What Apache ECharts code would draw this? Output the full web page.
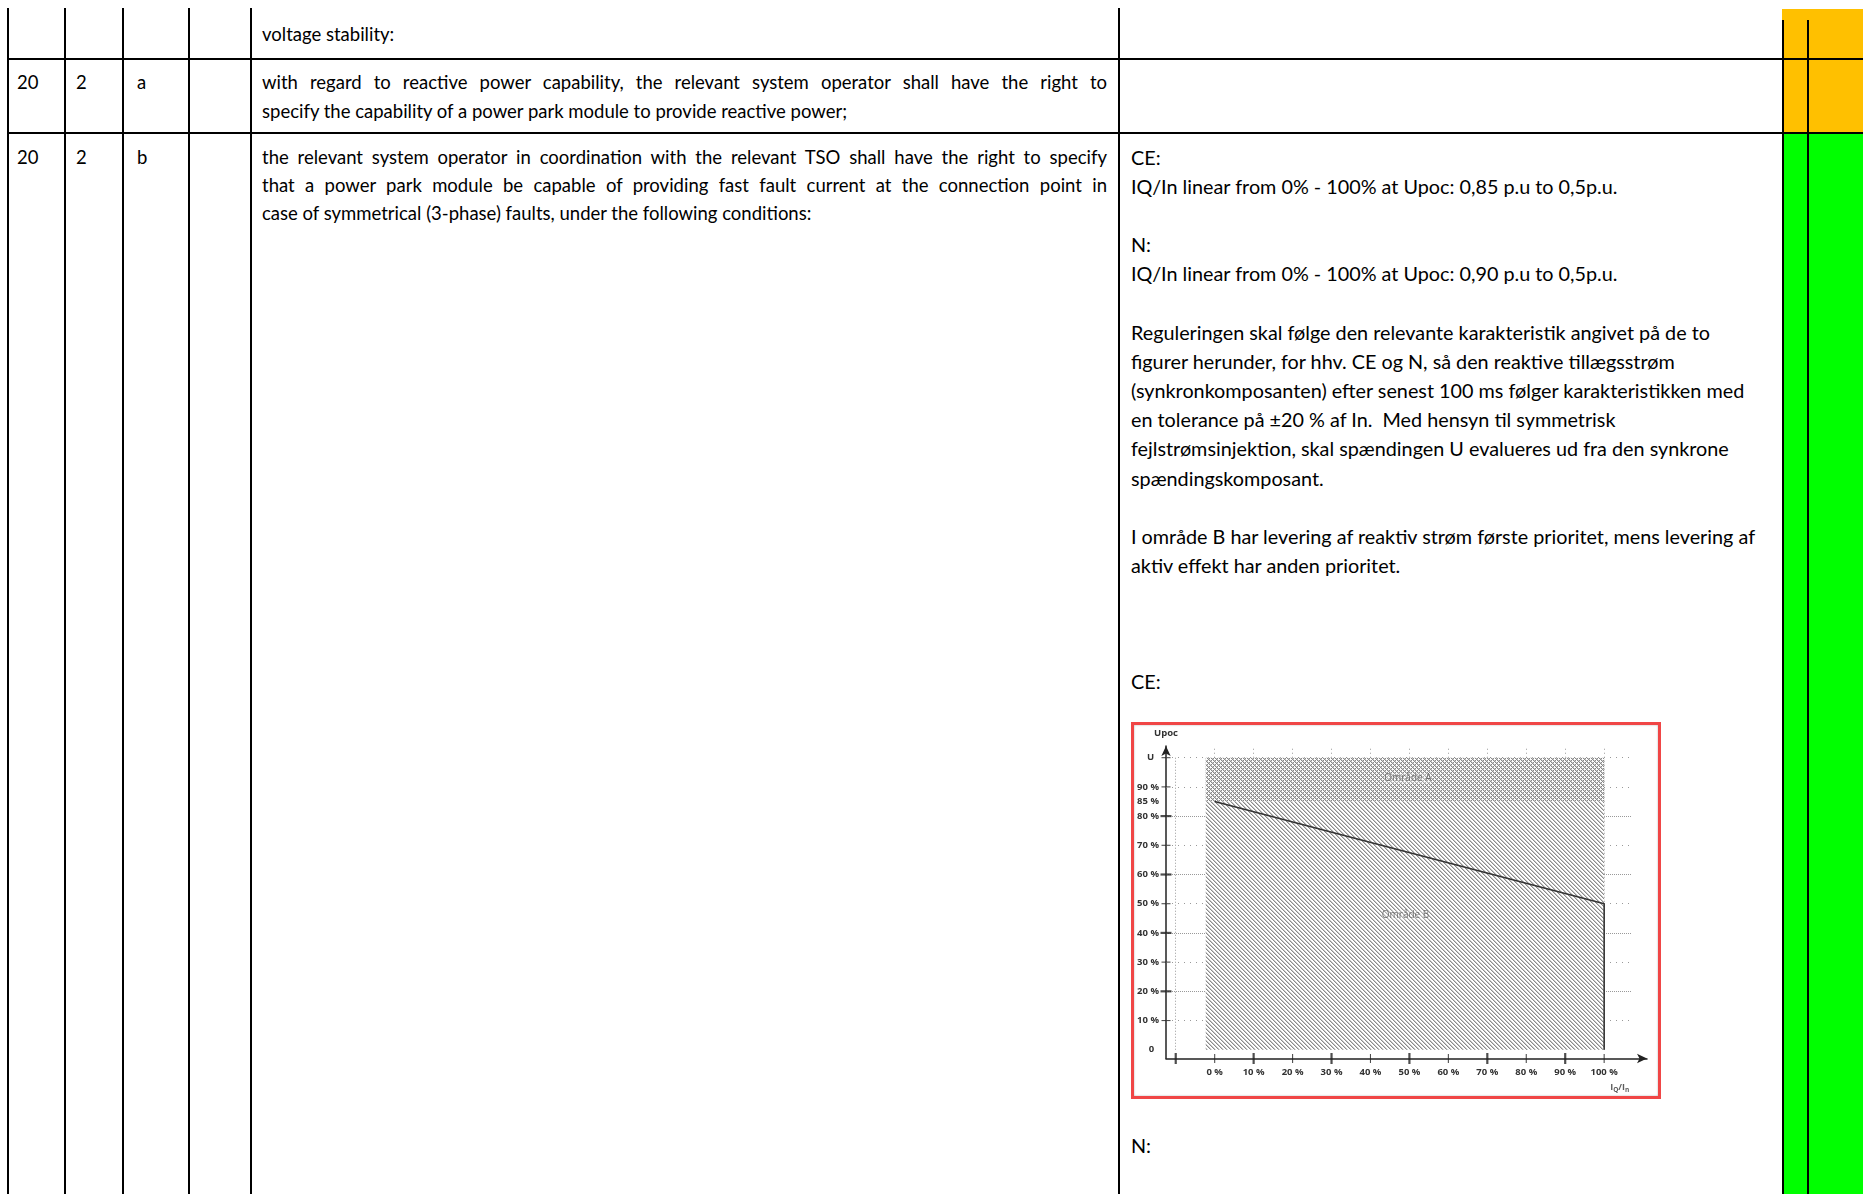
<!DOCTYPE html>
<html>
<head>
<meta charset="utf-8">
<script src="https://cdn.jsdelivr.net/npm/echarts@6/dist/echarts.min.js"></script>
<style>
  body { margin: 0; width: 1863px; height: 1194px; position: relative; overflow: hidden; background: #fff;
         font-family: Lato, 'Open Sans', sans-serif; font-size: 18.5px; color: #000; }
  .vl { position: absolute; width: 2px; background: #000; }
  .hl { position: absolute; height: 2px; background: #000; left: 7px; right: 0; }
  .t { position: absolute; height: 24px; line-height: 24px; white-space: pre; }
  .r { font-size: 19.8px; }
  .j { white-space: normal; text-align: justify; text-align-last: justify; width: 845px; }
  #frame { position: absolute; left: 1131px; top: 722px; width: 530px; height: 377px; box-sizing: border-box;
           border: 3px solid #f04646; box-shadow: inset 0 0 2px #aaa; background: #fff; }
  #chart { width: 100%; height: 100%; }
</style>
</head>
<body>
<!-- status columns -->
<div style="position:absolute;left:1782px;top:9px;width:81px;height:124px;background:#ffc000"></div>
<div style="position:absolute;left:1782px;top:133px;width:81px;height:1061px;background:#00ff00"></div>

<!-- table rules -->
<div class="vl" style="left:7px;top:8px;bottom:0"></div>
<div class="vl" style="left:64px;top:8px;bottom:0"></div>
<div class="vl" style="left:122px;top:8px;bottom:0"></div>
<div class="vl" style="left:188px;top:8px;bottom:0"></div>
<div class="vl" style="left:250px;top:8px;bottom:0"></div>
<div class="vl" style="left:1118px;top:8px;bottom:0"></div>
<div class="vl" style="left:1782px;top:20px;bottom:0"></div>
<div class="vl" style="left:1807px;top:20px;bottom:0"></div>
<div class="hl" style="top:58px"></div>
<div class="hl" style="top:132px"></div>

<!-- left part -->
<div class="t" style="left:262px;top:22px">voltage stability:</div>

<div class="t" style="left:17px;top:70px">20</div>
<div class="t" style="left:76px;top:70px">2</div>
<div class="t" style="left:137px;top:70px">a</div>
<div class="t j" style="left:262px;top:70px">with regard to reactive power capability, the relevant system operator shall have the right to</div>
<div class="t" style="left:262px;top:99px">specify the capability of a power park module to provide reactive power;</div>

<div class="t" style="left:17px;top:145px">20</div>
<div class="t" style="left:76px;top:145px">2</div>
<div class="t" style="left:137px;top:145px">b</div>
<div class="t j" style="left:262px;top:145px">the relevant system operator in coordination with the relevant TSO shall have the right to specify</div>
<div class="t j" style="left:262px;top:173px">that a power park module be capable of providing fast fault current at the connection point in</div>
<div class="t" style="left:262px;top:201px">case of symmetrical (3-phase) faults, under the following conditions:</div>

<!-- right part -->
<div class="t r" style="left:1131px;top:145px">CE:</div>
<div class="t r" style="left:1131px;top:174px">IQ/In linear from 0% - 100% at Upoc: 0,85 p.u to 0,5p.u.</div>
<div class="t r" style="left:1131px;top:232px">N:</div>
<div class="t r" style="left:1131px;top:261px">IQ/In linear from 0% - 100% at Upoc: 0,90 p.u to 0,5p.u.</div>
<div class="t r" style="left:1131px;top:320px">Reguleringen skal følge den relevante karakteristik angivet på de to</div>
<div class="t r" style="left:1131px;top:349px">figurer herunder, for hhv. CE og N, så den reaktive tillægsstrøm</div>
<div class="t r" style="left:1131px;top:378px">(synkronkomposanten) efter senest 100 ms følger karakteristikken med</div>
<div class="t r" style="left:1131px;top:407px">en tolerance på ±20 % af In.  Med hensyn til symmetrisk</div>
<div class="t r" style="left:1131px;top:436px">fejlstrømsinjektion, skal spændingen U evalueres ud fra den synkrone</div>
<div class="t r" style="left:1131px;top:466px">spændingskomposant.</div>
<div class="t r" style="left:1131px;top:524px">I område B har levering af reaktiv strøm første prioritet, mens levering af</div>
<div class="t r" style="left:1131px;top:553px">aktiv effekt har anden prioritet.</div>
<div class="t r" style="left:1131px;top:669px">CE:</div>
<div class="t r" style="left:1131px;top:1133px">N:</div>

<div id="frame"><div id="chart"></div></div>

<script>
// axis ranges (per cent)
const xMin = -12.5
const xMax = 111
const yMin = -3
const yMax = 104

// tick labels
const xLabelValues = [0, 10, 20, 30, 40, 50, 60, 70, 80, 90, 100]
const yLabelValues = [0, 10, 20, 30, 40, 50, 60, 70, 80, 85, 90, 100]

// tick marks on the axes
const xMajorTicks = [-10, 10, 30, 50, 70, 90]
const xMinorTicks = [0, 20, 40, 60, 80, 100]
const yMajorTicks = [20, 40, 60, 80]
const yMinorTicks = [10, 30, 50, 70, 90, 100]

// dotted guide lines
const yGuideMajor = [20, 40, 60, 80]
const yGuideMinor = [10, 30, 50, 70, 90, 100]
const xGuides = [0, 10, 20, 30, 40, 50, 60, 70, 80, 90, 100]

// characteristic IQ/In vs Upoc
const curveX = [0, 100, 100]
const curveY = [85, 50, 0]

// regions
const hatchX = [-2.3, 100]
const areaA = [85, 100]
const areaB = [0, 85]
const regionLabels = [[49.6, 93, 'Område A'], [49, 46, 'Område B']]

function hatch (cross) {
  const c = document.createElement('canvas')
  c.width = 4
  c.height = 4
  const ctx = c.getContext('2d')
  ctx.fillStyle = '#fff'
  ctx.fillRect(0, 0, 4, 4)
  for (let x = 0; x < 4; x++) {
    for (let y = 0; y < 4; y++) {
      const d = (x - y + 4) % 4
      if (d === 0) { ctx.fillStyle = '#8a8a8a'; ctx.fillRect(x, y, 1, 1) }
      else if (d === 1) { ctx.fillStyle = '#c8c8c8'; ctx.fillRect(x, y, 1, 1) }
      if (cross && (x + y) % 4 === 0) { ctx.fillStyle = '#8a8a8a'; ctx.fillRect(x, y, 1, 1) }
    }
  }
  return c
}

const labelFont = { fontFamily: 'Open Sans', fontWeight: 'bold', fontSize: 9.5, color: '#333' }

const guideLines = []
yGuideMajor.forEach(v => guideLines.push([{ coord: [xMin, v], lineStyle: { type: [1, 1] } }, { coord: [107, v] }]))
yGuideMinor.forEach(v => guideLines.push([{ coord: [xMin, v], lineStyle: { type: [1, 5] } }, { coord: [107, v] }]))
guideLines.push([{ coord: [-10, 0], lineStyle: { type: [1, 2] } }, { coord: [-10, 100] }])
xGuides.forEach(v => guideLines.push([{ coord: [v, 0], lineStyle: { type: [1, 3] } }, { coord: [v, 103.3] }]))

const tickSeries = (data, size) => ({
  type: 'scatter',
  data: data,
  symbol: 'rect',
  symbolSize: size,
  itemStyle: { color: '#222' },
  clip: false,
  silent: true,
  z: 6
})

const chart = echarts.init(document.getElementById('chart'))
chart.setOption({
  animation: false,
  grid: { left: 32, top: 21, width: 481, height: 312.5, outerBoundsMode: 'none' },
  xAxis: {
    type: 'value',
    min: xMin,
    max: xMax,
    axisLine: { show: true, onZero: false, symbol: ['none', 'arrow'], symbolSize: [7, 10], lineStyle: { color: '#222', width: 1.5 } },
    axisTick: { show: false },
    splitLine: { show: false },
    axisLabel: Object.assign({ customValues: xLabelValues, formatter: v => v + ' %', margin: 9 }, labelFont)
  },
  yAxis: {
    type: 'value',
    min: yMin,
    max: yMax,
    name: 'Upoc',
    nameLocation: 'end',
    nameGap: 8,
    nameTextStyle: labelFont,
    axisLine: { show: true, onZero: false, symbol: ['none', 'arrow'], symbolSize: [7, 10], lineStyle: { color: '#222', width: 1.5 } },
    axisTick: { show: false },
    splitLine: { show: false },
    axisLabel: Object.assign({
      customValues: yLabelValues,
      formatter: v => v === 100 ? 'U  ' : (v === 0 ? '0  ' : v + ' %'),
      margin: 7
    }, labelFont)
  },
  series: [
    {
      type: 'line',
      data: [],
      clip: false,
      silent: true,
      markLine: {
        z: 1,
        silent: true,
        symbol: ['none', 'none'],
        label: { show: false },
        lineStyle: { color: '#999', width: 1 },
        data: guideLines
      },
      markArea: {
        z: 2,
        silent: true,
        data: [
          [{ coord: [hatchX[0], areaA[0]], itemStyle: { color: { image: hatch(true), repeat: 'repeat' } } }, { coord: [hatchX[1], areaA[1]] }],
          [{ coord: [hatchX[0], areaB[0]], itemStyle: { color: { image: hatch(false), repeat: 'repeat' } } }, { coord: [hatchX[1], areaB[1]] }]
        ]
      }
    },
    {
      type: 'line',
      data: [],
      clip: false,
      silent: true,
      markLine: {
        z: 3,
        silent: true,
        symbol: ['none', 'none'],
        label: { show: false },
        data: [
          [{ coord: [-14.5, 85], lineStyle: { color: '#444', width: 1, type: [7, 2, 1.5, 2] } }, { coord: [105.6, 85] }],
          [{ coord: [-14.5, 0], lineStyle: { color: '#555', width: 1.2, type: [5, 3] } }, { coord: [108, 0] }]
        ]
      }
    },
    {
      type: 'line',
      data: curveX.map((x, i) => [x, curveY[i]]),
      symbol: 'none',
      clip: false,
      silent: true,
      z: 5,
      lineStyle: { color: '#333', width: 1.6 }
    },
    tickSeries(xMajorTicks.map(v => [v, yMin]), [2.2, 11]),
    tickSeries(xMinorTicks.map(v => [v, yMin]), [1.1, 9]),
    tickSeries(yMajorTicks.map(v => [xMin, v]), [11, 2.2]),
    tickSeries(yMinorTicks.map(v => [xMin, v]), [9, 1.1]),
    {
      type: 'scatter',
      data: regionLabels,
      symbolSize: 1,
      itemStyle: { color: 'transparent' },
      silent: true,
      z: 6,
      label: { show: true, position: 'inside', formatter: p => p.data[2], fontFamily: 'Open Sans', fontSize: 10, color: '#555',
               backgroundColor: 'rgba(255,255,255,0.35)' }
    },
    {
      type: 'scatter',
      data: [[104, -12.8]],
      symbolSize: 1,
      itemStyle: { color: 'transparent' },
      clip: false,
      silent: true,
      label: {
        show: true,
        position: 'inside',
        formatter: '{b|I}{s|Q}{b|/I}{s|n}',
        rich: {
          b: { fontFamily: 'Open Sans', fontWeight: 'bold', fontSize: 9, color: '#333' },
          s: { fontFamily: 'Open Sans', fontWeight: 'bold', fontSize: 6.5, color: '#333', padding: [6, 0, 0, 0] }
        }
      }
    }
  ]
})
</script>
</body>
</html>
